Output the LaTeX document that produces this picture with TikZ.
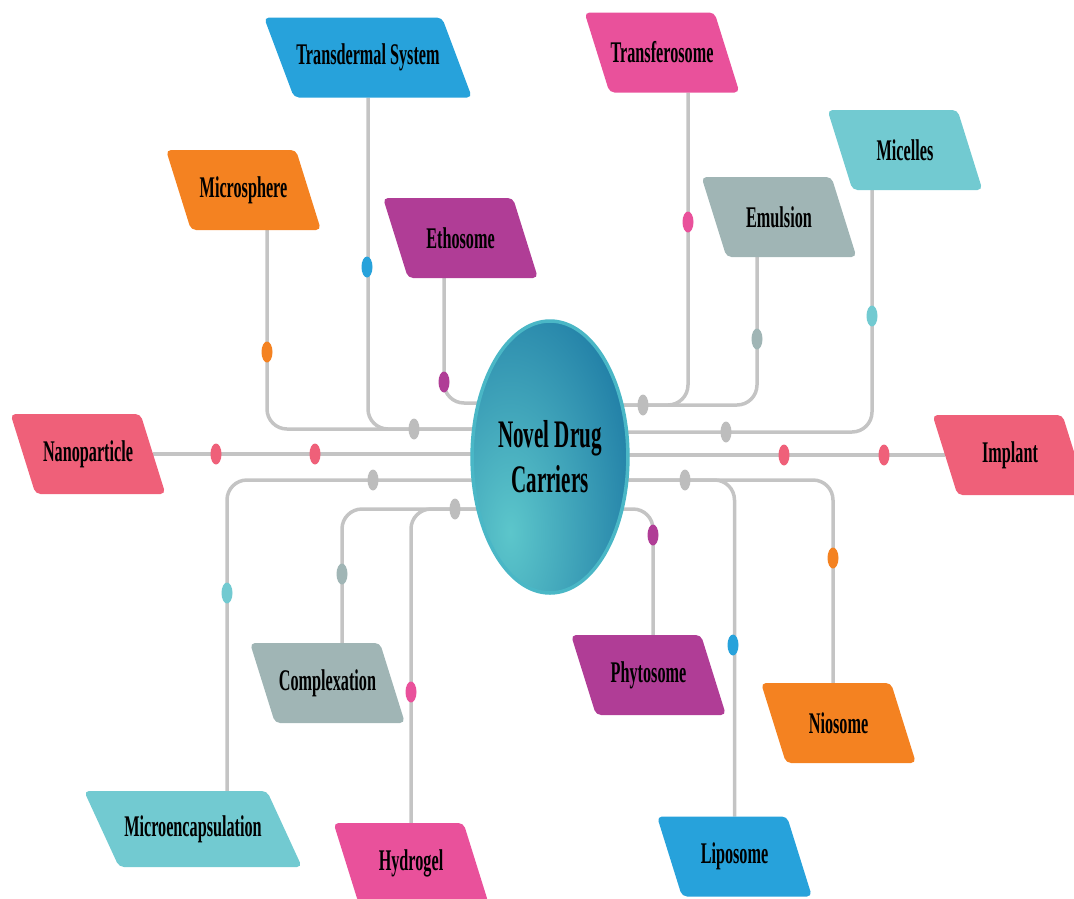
\documentclass[tikz,border=0pt]{standalone}
\usepackage{fontspec}
\setmainfont{Liberation Serif}[FakeStretch=0.54]
\usetikzlibrary{shapes.geometric,backgrounds}

\definecolor{cblue}{HTML}{27A2DB}
\definecolor{cpink}{HTML}{E9519B}
\definecolor{corange}{HTML}{F48221}
\definecolor{cpurple}{HTML}{B03D96}
\definecolor{cgray}{HTML}{A0B5B5}
\definecolor{ccyan}{HTML}{72CAD1}
\definecolor{cred}{HTML}{EF6079}
\definecolor{clink}{HTML}{C4C4C4}
\definecolor{cdot}{HTML}{BDBDBD}
\definecolor{ndcdark}{HTML}{15709F}
\definecolor{ndclight}{HTML}{5CC6CB}
\definecolor{ndcring}{HTML}{4AB7C6}

\tikzset{
  carrier/.style={rectangle, minimum width=130pt, minimum height=80pt,
    inner sep=0pt, outer sep=0pt, font=\bfseries\fontsize{30}{32}\selectfont},
  link/.style={draw=clink, line width=3.5pt, rounded corners=20pt},
  knob/.style={ellipse, fill=#1, minimum width=11pt, minimum height=21pt, inner sep=0pt},
}

\begin{document}
\begin{tikzpicture}[x=1pt,y=-1pt]
        \useasboundingbox (0,0) rectangle (1074,898);
        \clip (0,0) rectangle (1074,898);
        %% centre
        \node[ellipse, minimum width=146pt, minimum height=272pt, draw=ndcring, line width=3.5pt,
              align=center, font=\bfseries\fontsize{39}{45}\selectfont,
              path picture={\shade[inner color=ndclight, outer color=ndcdark]
                ([xshift=-40pt,yshift=-75pt]path picture bounding box.center)
                ellipse [x radius=160pt, y radius=320pt];}] (ndc) at (550,457) {Novel Drug\\Carriers};
        %% carriers, upper half
        \node[carrier, minimum width=178pt] (tds) at (368,57.5) {Transdermal System};
        \node[carrier] (tfs) at (662,52.5) {Transferosome};
        \node[carrier] (msp) at (243.5,190) {Microsphere};
        \node[carrier] (eth) at (460.5,238) {Ethosome};
        \node[carrier] (emu) at (779,217) {Emulsion};
        \node[carrier] (mic) at (905,150) {Micelles};
        %% carriers, middle
        \node[carrier] (nan) at (88,454) {Nanoparticle};
        \node[carrier] (imp) at (1010,455) {Implant};
        %% carriers, lower half
        \node[carrier] (cpx) at (327.5,683) {Complexation};
        \node[carrier] (phy) at (648.5,675) {Phytosome};
        \node[carrier] (nio) at (838.5,723) {Niosome};
        \node[carrier, minimum width=183pt, minimum height=76pt] (mce) at (193,829) {Microencapsulation};
        \node[carrier] (hyd) at (411,863) {Hydrogel};
        \node[carrier] (lip) at (734.5,856.5) {Liposome};
        \begin{scope}[on background layer]
            %% connectors
            \draw[link] ([xshift=23.5pt]msp.south) |- ([yshift=28pt]ndc.center);
            \draw[link] (tds.south) |- ([yshift=28pt]ndc.center);
            \draw[link] ([xshift=-16.5pt]eth.south) |- ([yshift=54pt]ndc.center);
            \draw[link] ([xshift=26pt]tfs.south) |- ([yshift=52pt]ndc.center);
            \draw[link] ([xshift=-22pt]emu.south) |- ([yshift=52pt]ndc.center);
            \draw[link] ([xshift=-33pt]mic.south) |- ([yshift=25pt]ndc.center);
            \draw[link] (nan.east) -- (nan.east -| ndc.center);
            \draw[link] (imp.west) -- (imp.west -| ndc.center);
            \draw[link] ([xshift=34pt]mce.north) |- ([yshift=-23pt]ndc.center);
            \draw[link] ([xshift=14.5pt]cpx.north) |- ([yshift=-52pt]ndc.center);
            \draw[link] (hyd.north) |- ([yshift=-52pt]ndc.center);
            \draw[link] (lip.north) |- ([yshift=-23pt]ndc.center);
            \draw[link] ([xshift=-5.5pt]nio.north) |- ([yshift=-23pt]ndc.center);
            \draw[link] ([xshift=4.5pt]phy.north) |- ([yshift=-52pt]ndc.center);
            %% slanted boxes behind the labels
            \foreach \n/\c/\s in {tds/cblue/15, tfs/cpink/12.5, msp/corange/12.5, eth/cpurple/12.5,
                    emu/cgray/12.5, mic/ccyan/12.5, nan/cred/12.5, imp/cred/12.5, cpx/cgray/12.5,
                    phy/cpurple/12.5, nio/corange/12.5, mce/ccyan/17.5, hyd/cpink/12.5, lip/cblue/12.5}
                \fill[\c, rounded corners=5pt] ([xshift=-\s pt]\n.north west) -- ([xshift=-\s pt]\n.north east)
                    -- ([xshift=\s pt]\n.south east) -- ([xshift=\s pt]\n.south west) -- cycle;
        \end{scope}
        %% knobs on the connectors
        \foreach \px/\py/\pc [count=\k] in {267/352/corange, 367/267/cblue, 444/382/cpurple,
                688/222/cpink, 757/339/cgray, 872/316/ccyan, 216/454/cred, 315/454/cred,
                784/455/cred, 884/455/cred, 227/593/ccyan, 342/574/cgray, 411/692/cpink,
                733/645/cblue, 833/558/corange, 653/535/cpurple,
                414/429/cdot, 643/405/cdot, 726/432/cdot, 373/480/cdot, 455/509/cdot, 685/480/cdot}
            \node[knob=\pc] (knob\k) at (\px,\py) {};
\end{tikzpicture}
\end{document}
